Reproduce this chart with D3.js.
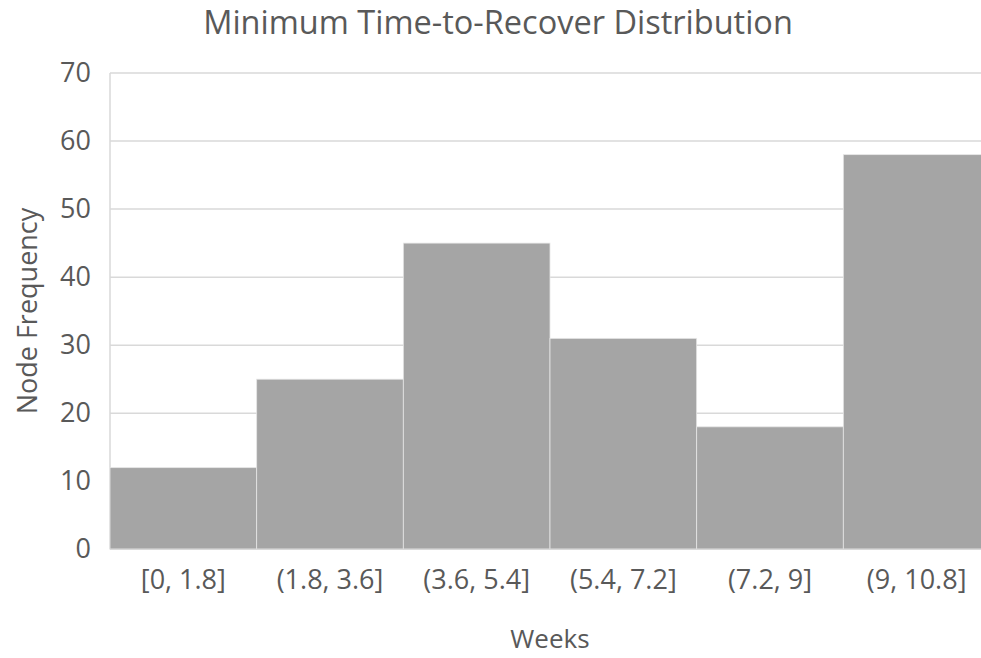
<!DOCTYPE html>
<html>
<head>
<meta charset="utf-8">
<script src="https://cdn.jsdelivr.net/npm/d3@7"></script>
<style>
  html, body { margin: 0; padding: 0; background: #fff; overflow: hidden; }
  svg { display: block; font-family: "Open Sans", "Noto Sans", sans-serif; }
</style>
</head>
<body>
<svg id="chart" width="981" height="658"></svg>
<script>
// Histogram bins and their node counts
const categories = ["[0, 1.8]", "(1.8, 3.6]", "(3.6, 5.4]", "(5.4, 7.2]", "(7.2, 9]", "(9, 10.8]"];
const frequencies = [12, 25, 45, 31, 18, 58];
const yTicks = [0, 10, 20, 30, 40, 50, 60, 70];

const titleText = "Minimum Time-to-Recover Distribution";
const xTitle = "Weeks";
const yTitle = "Node Frequency";

const svg = d3.select("#chart");
const margin = { left: 110, right: -9, top: 73, bottom: 108.7 };
const W = 981, H = 658;

const x = d3.scaleBand()
  .domain(categories)
  .range([margin.left, W - margin.right])
  .padding(0);

const y = d3.scaleLinear()
  .domain([0, 70])
  .range([H - margin.bottom, margin.top]);

const textColor = "#595959";
const gridColor = "#d9d9d9";

// Horizontal gridlines
svg.append("g")
  .selectAll("line")
  .data(yTicks)
  .join("line")
  .attr("x1", margin.left)
  .attr("x2", W)
  .attr("y1", d => y(d))
  .attr("y2", d => y(d))
  .attr("stroke", gridColor)
  .attr("stroke-width", 1.5);

// Left axis line
svg.append("line")
  .attr("x1", margin.left).attr("x2", margin.left)
  .attr("y1", y(70)).attr("y2", y(0))
  .attr("stroke", gridColor)
  .attr("stroke-width", 1.5);

// Bars
svg.append("g")
  .selectAll("rect")
  .data(categories.map((c, i) => ({ c, v: frequencies[i] })))
  .join("rect")
  .attr("x", d => x(d.c))
  .attr("y", d => y(d.v))
  .attr("width", x.bandwidth())
  .attr("height", d => y(0) - y(d.v))
  .attr("fill", "#a5a5a5")
  .attr("stroke", "#e6e6e6")
  .attr("stroke-width", 0.8);

// Bottom axis baseline
svg.append("line")
  .attr("x1", margin.left).attr("x2", W)
  .attr("y1", y(0)).attr("y2", y(0))
  .attr("stroke", gridColor)
  .attr("stroke-width", 1.5);

// Y axis tick labels
const yAxis = d3.axisLeft(y).tickValues(yTicks).tickSize(0).tickPadding(19);
const gy = svg.append("g")
  .attr("transform", `translate(${margin.left},0)`)
  .call(yAxis);
gy.select(".domain").remove();
gy.selectAll("text")
  .attr("fill", textColor)
  .attr("font-size", 27)
  .attr("font-family", "'Open Sans', sans-serif");

// X axis tick labels
const xAxis = d3.axisBottom(x).tickSize(0).tickPadding(21);
const gx = svg.append("g")
  .attr("transform", `translate(0,${y(0)})`)
  .call(xAxis);
gx.select(".domain").remove();
gx.selectAll("text")
  .attr("fill", textColor)
  .attr("font-size", 27)
  .attr("font-family", "'Open Sans', sans-serif");

// Title
svg.append("text")
  .attr("x", 498)
  .attr("y", 34)
  .attr("text-anchor", "middle")
  .attr("fill", textColor)
  .attr("font-size", 32.5)
  .text(titleText);

// Axis titles
svg.append("text")
  .attr("x", 550)
  .attr("y", 648)
  .attr("text-anchor", "middle")
  .attr("fill", textColor)
  .attr("font-size", 26)
  .text(xTitle);

svg.append("text")
  .attr("transform", "translate(37,311) rotate(-90)")
  .attr("text-anchor", "middle")
  .attr("fill", textColor)
  .attr("font-size", 27)
  .text(yTitle);
</script>
</body>
</html>
